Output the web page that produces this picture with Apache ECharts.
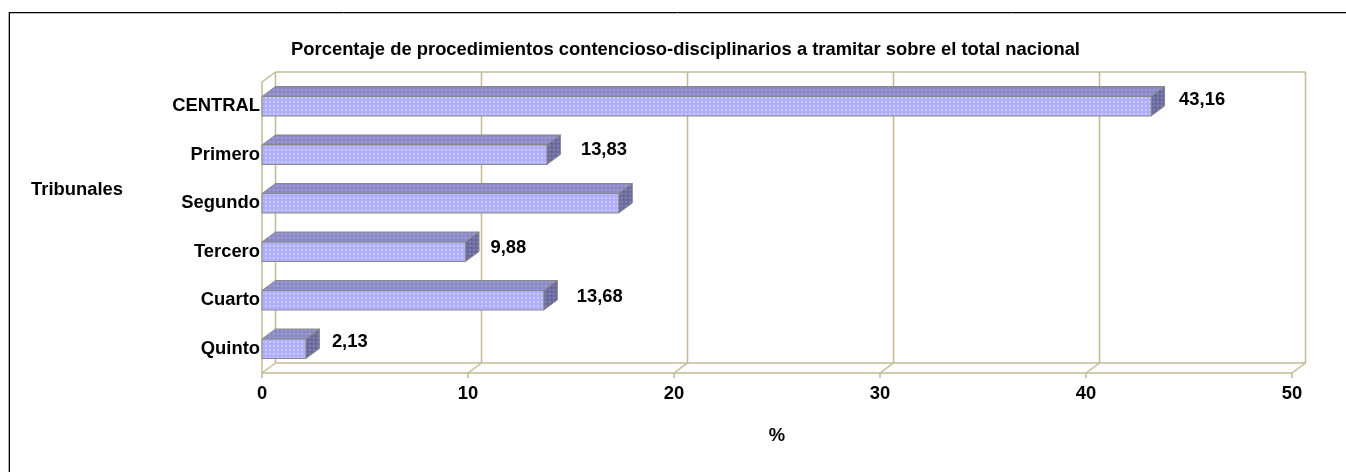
<!DOCTYPE html>
<html><head><meta charset="utf-8">
<style>html,body{margin:0;padding:0;background:#fff}#c{width:1346px;height:472px}</style>
<script src="https://cdn.jsdelivr.net/npm/echarts@6/dist/echarts.min.js"></script>
</head><body><div id="c"></div>
<script>
const categories = ['CENTRAL','Primero','Segundo','Tercero','Cuarto','Quinto'];
const values = [43.16,13.83,17.32,9.88,13.68,2.13];
const valueLabels = ['43,16','13,83',null,'9,88','13,68','2,13'];
const xTicks = [0,10,20,30,40,50];
const labelDx = [28,34,0,25,33,26];
const labelDy = [-6,-5,0,-4,-3.5,-7];

const DX = 13.5, DY = -10, BAR_H = 19.5;
const WALL = '#c2bb94', WALL_W = 1.5, FONT = '"Liberation Sans", Arial, sans-serif';
const TXT = 18.4;

function pattern(base, dot, dark){
  const c = document.createElement('canvas'); c.width = 4; c.height = 4;
  const g = c.getContext('2d');
  g.fillStyle = base; g.fillRect(0,0,4,4);
  g.fillStyle = dot; g.fillRect(1,1,2,2);
  g.fillStyle = dark; g.fillRect(3,3,1,1);
  return {image:c, repeat:'repeat'};
}
const frontFill = pattern('#b0b0fc','#c8c8ff','#a4a4f6');
const topFill = pattern('#8c8cc6','#9c9cd2','#7e7eba');
const sideFill = pattern('#6c6ca0','#8080ae','#5a5a8c');
const EDGE = '#888888';

function renderWall(params, api){
  const x = api.coord([api.value(0), 0]);
  const s = params.coordSys;
  const top = s.y, bottom = s.y + s.height;
  const lineStyle = {stroke:WALL, lineWidth:WALL_W, fill:null};
  const children = [
    {type:'line', shape:{x1:x[0]+DX,y1:top+DY,x2:x[0]+DX,y2:bottom+DY}, style:lineStyle},
    {type:'line', shape:{x1:x[0],y1:bottom,x2:x[0]+DX,y2:bottom+DY}, style:lineStyle}
  ];
  if (params.dataIndex === 0) {
    children.push(
      {type:'line', shape:{x1:s.x,y1:top,x2:s.x+DX,y2:top+DY}, style:lineStyle},
      {type:'line', shape:{x1:s.x+DX,y1:top+DY,x2:s.x+s.width+DX,y2:top+DY}, style:lineStyle},
      {type:'line', shape:{x1:s.x+DX,y1:bottom+DY,x2:s.x+s.width+DX,y2:bottom+DY}, style:lineStyle}
    );
  }
  return {type:'group', children};
}

function renderBar(params, api){
  const i = api.value(1);
  const c0 = api.coord([0, i]);
  const c1 = api.coord([api.value(0), i]);
  const x0 = c0[0], x1 = c1[0], y0 = c1[1]-BAR_H/2, y1 = c1[1]+BAR_H/2;
  const edge = {stroke:EDGE, lineWidth:1};
  const children = [
    {type:'polygon', shape:{points:[[x0,y0],[x0+DX,y0+DY],[x1+DX,y0+DY],[x1,y0]]}, style:{fill:topFill,...edge}},
    {type:'polygon', shape:{points:[[x1,y0],[x1+DX,y0+DY],[x1+DX,y1+DY],[x1,y1]]}, style:{fill:sideFill,...edge}},
    {type:'rect', shape:{x:x0,y:y0,width:x1-x0,height:y1-y0}, style:{fill:frontFill,...edge}}
  ];
  const t = valueLabels[params.dataIndex];
  if (t) children.push({type:'text', style:{
    text:t, x:x1+labelDx[params.dataIndex], y:c1[1]+labelDy[params.dataIndex],
    verticalAlign:'middle', align:'left', fill:'#000',
    font:'bold '+TXT+'px '+FONT}});
  return {type:'group', children};
}

const chart = echarts.init(document.getElementById('c'), null, {renderer:'canvas'});
chart.setOption({
  animation:false,
  backgroundColor:'#fff',
  title:[
    {text:'Porcentaje de procedimientos contencioso-disciplinarios a tramitar sobre el total nacional',
     left:680.5, top:36, textAlign:'center',
     textStyle:{fontFamily:FONT, fontWeight:'bold', fontSize:18.4, color:'#000'}},
    {text:'Tribunales', left:26, top:176,
     textStyle:{fontFamily:FONT, fontWeight:'bold', fontSize:TXT, color:'#000'}}
  ],
  grid:{left:262, right:54, top:82, bottom:99},
  xAxis:{type:'value', min:0, max:50, interval:10,
    name:'%', nameLocation:'middle', nameGap:54,
    nameTextStyle:{fontFamily:FONT, fontWeight:'bold', fontSize:TXT, color:'#000'},
    axisLine:{show:true, onZero:false, lineStyle:{color:WALL, width:WALL_W}},
    axisTick:{show:true, length:5, lineStyle:{color:WALL, width:WALL_W}},
    splitLine:{show:false},
    axisLabel:{color:'#000', fontFamily:FONT, fontWeight:'bold', fontSize:TXT, margin:12,
      formatter:v=>String(v)}},
  yAxis:{type:'category', inverse:true, data:categories,
    axisLine:{show:true, lineStyle:{color:WALL, width:WALL_W}},
    axisTick:{show:false}, splitLine:{show:false},
    axisLabel:{color:'#000', fontFamily:FONT, fontWeight:'bold', fontSize:TXT, margin:2}},
  graphic:[
    {type:'line', shape:{x1:9,y1:12.5,x2:1346,y2:12.5}, style:{stroke:'#000',lineWidth:1}},
    {type:'line', shape:{x1:9,y1:13.5,x2:1346,y2:13.5}, style:{stroke:'#bbb',lineWidth:1}},
    {type:'line', shape:{x1:9.5,y1:12,x2:9.5,y2:472}, style:{stroke:'#000',lineWidth:1}},
    {type:'line', shape:{x1:8.5,y1:12,x2:8.5,y2:472}, style:{stroke:'#aaa',lineWidth:1}}
  ],
  series:[
    {type:'custom', name:'wall', coordinateSystem:'cartesian2d', z:1, silent:true, clip:false,
     encode:{x:0}, data:xTicks.map(v=>[v,0]), renderItem:renderWall},
    {type:'custom', name:'%', coordinateSystem:'cartesian2d', z:3, silent:true, clip:false,
     encode:{x:0,y:1}, data:values.map((v,i)=>[v,i]), renderItem:renderBar}
  ]
});
</script></body></html>
